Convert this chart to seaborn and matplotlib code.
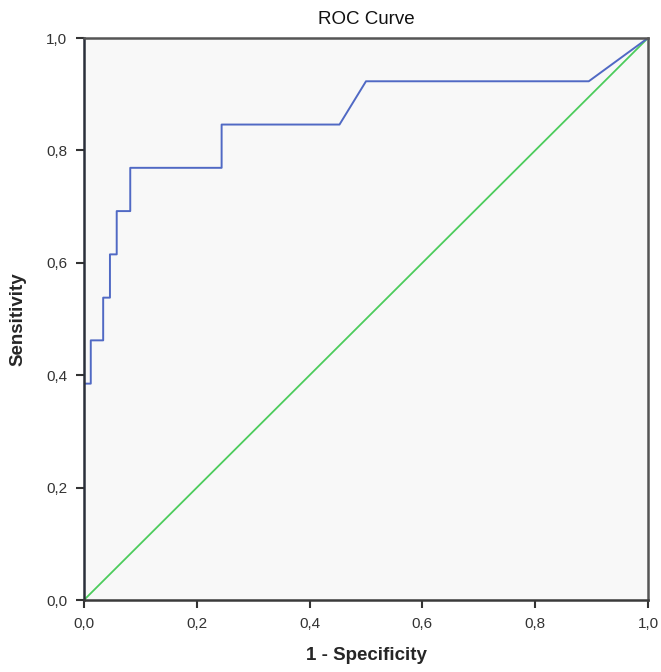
import seaborn as sns
import matplotlib.pyplot as plt
import pandas as pd
from matplotlib.ticker import FuncFormatter

# ROC points (1 - specificity, sensitivity)
fpr = [0.0, 0.0, 0.012, 0.012, 0.034, 0.034, 0.046, 0.046, 0.058, 0.058,
       0.082, 0.082, 0.244, 0.244, 0.453, 0.500, 0.895, 1.0]
tpr = [0.0, 0.385, 0.385, 0.462, 0.462, 0.538, 0.538, 0.615, 0.615, 0.692,
       0.692, 0.769, 0.769, 0.846, 0.846, 0.923, 0.923, 1.0]
ref_x = [0.0, 1.0]
ref_y = [0.0, 1.0]
ticks = [0.0, 0.2, 0.4, 0.6, 0.8, 1.0]

roc = pd.DataFrame({'fpr': fpr, 'tpr': tpr})
diag = pd.DataFrame({'x': ref_x, 'y': ref_y})

sns.set_style('white')
plt.rcParams['font.family'] = ['Liberation Sans', 'DejaVu Sans']

fig = plt.figure(figsize=(6.61, 6.72), dpi=100)
ax = fig.add_axes([84 / 661, 72 / 672, 564 / 661, 562 / 672])
ax.set_facecolor('#f8f8f8')

sns.lineplot(data=diag, x='x', y='y', color='#4ccc5c', linewidth=1.3,
             estimator=None, errorbar=None, ax=ax)
sns.lineplot(data=roc, x='fpr', y='tpr', sort=False, estimator=None,
             errorbar=None, color='#5069c4', linewidth=1.4, ax=ax)

ax.set_xlim(0, 1)
ax.set_ylim(0, 1)
ax.set_xticks(ticks)
ax.set_yticks(ticks)
fmt = FuncFormatter(lambda v, p: f'{v:.1f}'.replace('.', ','))
ax.xaxis.set_major_formatter(fmt)
ax.yaxis.set_major_formatter(fmt)
ax.tick_params(axis='both', direction='out', length=6, width=1.5,
               color='#333333', labelsize=11, labelcolor='#333333',
               bottom=True, left=True, pad=6)

for side in ['left', 'bottom', 'right', 'top']:
    ax.spines[side].set_visible(True)
    ax.spines[side].set_linewidth(1.8)
ax.spines['left'].set_color('#2a2f3a')
ax.spines['bottom'].set_color('#3a3a3a')
ax.spines['right'].set_color('#555555')
ax.spines['top'].set_color('#555555')

ax.set_xlabel('1 - Specificity', fontsize=13.5, fontweight='bold', labelpad=12)
ax.set_ylabel('Sensitivity', fontsize=13.5, fontweight='bold', labelpad=14)
ax.set_title('ROC Curve', fontsize=13.5, pad=10, color='#111111')

fig.savefig('out.png', dpi=100, facecolor='white')
